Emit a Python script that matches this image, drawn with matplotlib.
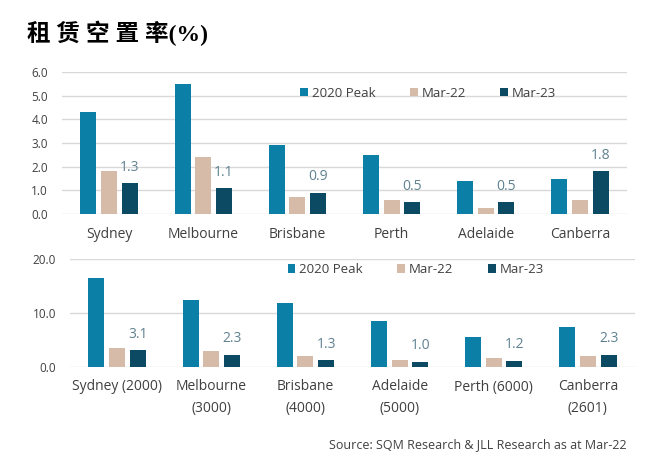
import matplotlib.pyplot as plt
import numpy as np

# top chart: city vacancy
cities_top = ['Sydney', 'Melbourne', 'Brisbane', 'Perth', 'Adelaide', 'Canberra']
peak_top = [4.3, 5.5, 2.9, 2.5, 1.4, 1.5]
mar22_top = [1.8, 2.4, 0.7, 0.6, 0.25, 0.6]
mar23_top = [1.3, 1.1, 0.9, 0.5, 0.5, 1.8]

# bottom chart: CBD postcodes
cities_bot = ['Sydney (2000)', 'Melbourne\n(3000)', 'Brisbane\n(4000)',
              'Adelaide\n(5000)', 'Perth (6000)', 'Canberra\n(2601)']
peak_bot = [16.5, 12.4, 11.8, 8.5, 5.6, 7.4]
mar22_bot = [3.5, 3.0, 2.0, 1.3, 1.6, 2.0]
mar23_bot = [3.1, 2.3, 1.3, 1.0, 1.2, 2.3]

series_names = ['2020 Peak', 'Mar-22', 'Mar-23']
colors = ['#0b7fa6', '#d6bba8', '#0c4a63']
label_color = '#5f8190'
text_color = '#404040'

plt.rcParams['font.family'] = ['Open Sans', 'DejaVu Sans']

fig = plt.figure(figsize=(6.66, 4.72), dpi=100)
fig.patch.set_facecolor('white')

W, H = 666, 472


def box(x0, y0, x1, y1):
    return [x0 / W, 1 - y1 / H, (x1 - x0) / W, (y1 - y0) / H]


def draw(ax, cats, data, ymax, step, leg_anchor):
    x = np.arange(len(cats))
    w = 0.17
    offs = [-0.22, 0, 0.22]
    for vals, off, c, name in zip(data, offs, colors, series_names):
        ax.bar(x + off, vals, w, color=c, label=name, zorder=3)
    for xi, v in zip(x, data[2]):
        ax.annotate(f'{v:.1f}', (xi + 0.22, v), xytext=(0, 6), textcoords='offset points',
                    ha='center', va='bottom', fontsize=10, color=label_color)
    ax.set_xlim(-0.5, len(cats) - 0.5)
    ax.set_ylim(0, ymax)
    ticks = np.arange(0, ymax + 0.01, step)
    ax.set_yticks(ticks)
    ax.set_yticklabels([f'{t:.1f}' for t in ticks])
    ax.yaxis.grid(True, color='#d9d9d9', linewidth=1, zorder=0)
    ax.set_axisbelow(True)
    for s in ax.spines.values():
        s.set_visible(False)
    ax.set_xticks(x)
    ax.set_xticklabels(cats, fontsize=10, color=text_color, linespacing=1.6)
    ax.tick_params(axis='x', length=0, pad=9)
    ax.tick_params(axis='y', length=0, pad=10, labelsize=8.5, labelcolor=text_color)
    ax.legend(loc='center', bbox_to_anchor=leg_anchor, ncol=3, frameon=False,
              fontsize=9.5, handlelength=0.6, handleheight=0.6, handletextpad=0.3,
              columnspacing=2.6, labelcolor=text_color)


ax1 = fig.add_axes(box(62, 72, 627, 214))
draw(ax1, cities_top, [peak_top, mar22_top, mar23_top], 6, 1, (0.648, 0.85))

ax2 = fig.add_axes(box(70, 259, 635, 367))
draw(ax2, cities_bot, [peak_bot, mar22_bot, mar23_bot], 20, 10, (0.612, 0.9))

fig.text(27 / W, 1 - 33 / H, '租 赁 空 置 率(%)', fontsize=17, fontweight='bold',
         family=['Liberation Serif', 'Noto Sans CJK SC'], va='center', ha='left')

fig.text(627 / W, 1 - 445 / H, 'Source: SQM Research & JLL Research as at Mar-22',
         fontsize=9, color=text_color, ha='right', va='center')

fig.savefig('out.png', dpi=100)
